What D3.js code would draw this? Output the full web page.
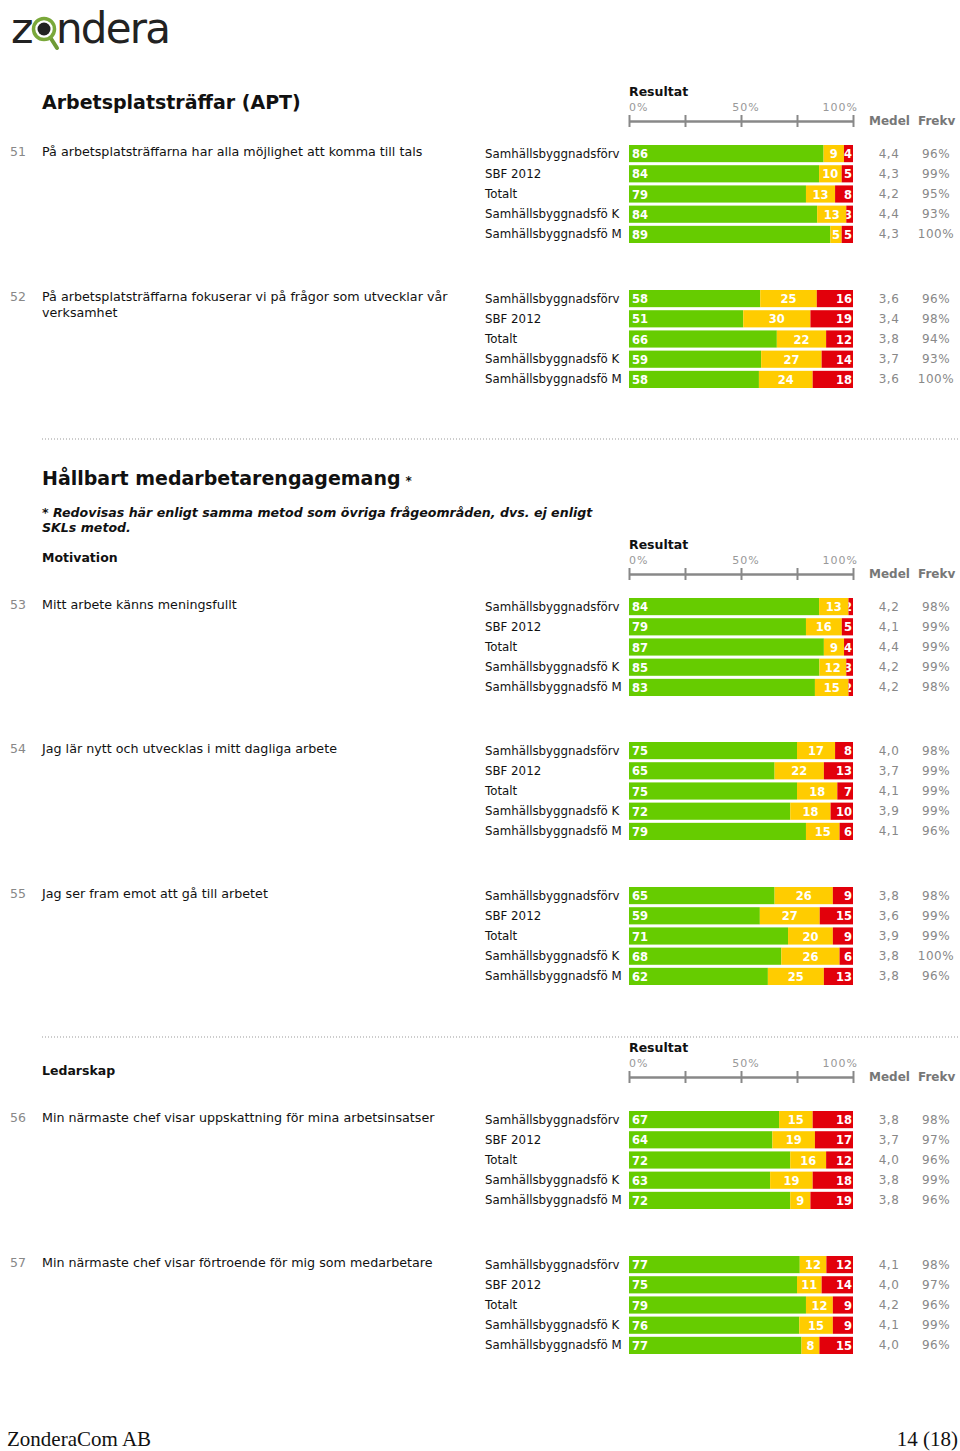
<!DOCTYPE html>
<html>
<head>
<meta charset="utf-8">
<script src="https://cdn.jsdelivr.net/npm/d3@7"></script>
<style>
  body{margin:0;background:#fff;}
  svg{display:block;font-family:"DejaVu Sans",Verdana,sans-serif;}
</style>
</head>
<body>
<div class="canvas"></div>
<script>
// data
const groups=['Samhällsbyggnadsförv','SBF 2012','Totalt','Samhällsbyggnadsfö K','Samhällsbyggnadsfö M'];
const qNumbers=[51,52,53,54,55,56,57];
const qTexts=[
  'På arbetsplatsträffarna har alla möjlighet att komma till tals',
  'På arbetsplatsträffarna fokuserar vi på frågor som utvecklar vår verksamhet',
  'Mitt arbete känns meningsfullt',
  'Jag lär nytt och utvecklas i mitt dagliga arbete',
  'Jag ser fram emot att gå till arbetet',
  'Min närmaste chef visar uppskattning för mina arbetsinsatser',
  'Min närmaste chef visar förtroende för mig som medarbetare'
];
const green=[[86,84,79,84,89],[58,51,66,59,58],[84,79,87,85,83],[75,65,75,72,79],[65,59,71,68,62],[67,64,72,63,72],[77,75,79,76,77]];
const yellow=[[9,10,13,13,5],[25,30,22,27,24],[13,16,9,12,15],[17,22,18,18,15],[26,27,20,26,25],[15,19,16,19,9],[12,11,12,15,8]];
const red=[[4,5,8,3,5],[16,19,12,14,18],[2,5,4,3,2],[8,13,7,10,6],[9,15,9,6,13],[18,17,12,18,19],[12,14,9,9,15]];
const medel=[['4,4','4,3','4,2','4,4','4,3'],['3,6','3,4','3,8','3,7','3,6'],['4,2','4,1','4,4','4,2','4,2'],['4,0','3,7','4,1','3,9','4,1'],['3,8','3,6','3,9','3,8','3,8'],['3,8','3,7','4,0','3,8','3,8'],['4,1','4,0','4,2','4,1','4,0']];
const frekv=[['96%','99%','95%','93%','100%'],['96%','98%','94%','93%','100%'],['98%','99%','99%','99%','98%'],['98%','99%','99%','99%','96%'],['98%','99%','99%','100%','96%'],['98%','97%','96%','99%','96%'],['98%','97%','96%','99%','96%']];
const tickLabels=['0%','50%','100%'];

const W=960,H=1451;
const svg=d3.select('.canvas').append('svg').attr('width',W).attr('height',H);

const x=d3.scaleLinear().domain([0,1]).range([629,853]);
const colors=['#66cc00','#ffcc00','#e2000b'];

// where each block sits on the page
const qTop=[144,289,597,741,886,1110,1255];
const headerAxisY=[121,574,1077];

// logo
const logo=svg.append('g');
logo.append('text').attr('x',11).attr('y',43).attr('font-size',43).attr('fill','#222').text('z');
logo.append('line').attr('x1',50).attr('y1',37).attr('x2',57).attr('y2',48).attr('stroke','#6f9a35').attr('stroke-width',4).attr('stroke-linecap','round');
logo.append('circle').attr('cx',44).attr('cy',29).attr('r',10.5).attr('fill','#fff').attr('stroke','#7aa83a').attr('stroke-width',3.5);
logo.append('circle').attr('cx',44).attr('cy',29).attr('r',6.5).attr('fill','#222');
logo.append('text').attr('x',56).attr('y',43).attr('font-size',42).attr('letter-spacing',-1.8).attr('fill','#222').text('ndera');

// headings
svg.append('text').attr('x',42).attr('y',109).attr('font-size',19).attr('font-weight','bold').attr('fill','#111').text('Arbetsplatsträffar (APT)');
const h2=svg.append('text').attr('x',42).attr('y',485).attr('font-size',19).attr('font-weight','bold').attr('fill','#111');
h2.append('tspan').text('Hållbart medarbetarengagemang');
h2.append('tspan').attr('font-size',12).attr('dx',5).text('*');
svg.append('text').attr('x',42).attr('y',517).attr('font-size',12.6).attr('font-weight','bold').attr('font-style','italic').attr('fill','#111')
  .text('* Redovisas här enligt samma metod som övriga frågeområden, dvs. ej enligt');
svg.append('text').attr('x',42).attr('y',532).attr('font-size',12.6).attr('font-weight','bold').attr('font-style','italic').attr('fill','#111')
  .text('SKLs metod.');
svg.append('text').attr('x',42).attr('y',562).attr('font-size',12.5).attr('font-weight','bold').attr('fill','#111').text('Motivation');
svg.append('text').attr('x',42).attr('y',1075).attr('font-size',12.5).attr('font-weight','bold').attr('fill','#111').text('Ledarskap');

// dotted separators
[439,1037].forEach(y=>{
  svg.append('line').attr('x1',42).attr('x2',958).attr('y1',y).attr('y2',y)
    .attr('stroke','#999').attr('stroke-dasharray','1,2');
});

// Resultat header + scale
headerAxisY.forEach(ay=>{
  const g=svg.append('g');
  g.append('text').attr('x',629).attr('y',ay-25).attr('font-size',12.5).attr('font-weight','bold').attr('fill','#111').text('Resultat');
  const axis=d3.axisBottom(x).tickValues([0,.25,.5,.75,1]).tickSizeOuter(0).tickFormat('');
  const ag=g.append('g').attr('transform',`translate(0,${ay})`).call(axis);
  ag.select('.domain').attr('stroke','#888').attr('stroke-width',2.5);
  ag.selectAll('.tick line').attr('y1',-6).attr('y2',6).attr('stroke','#888').attr('stroke-width',2);
  const anchors=['start','middle','end'];
  const vals=[0,.5,1];
  const dx=[0,5,5];
  g.selectAll('.tl').data(tickLabels).enter().append('text')
    .attr('x',(d,i)=>x(vals[i])+dx[i]).attr('y',ay-10)
    .attr('text-anchor',anchors[0]).attr('text-anchor',(d,i)=>anchors[i])
    .attr('font-size',11).attr('letter-spacing',1).attr('fill','#999').text(d=>d);
  g.append('text').attr('x',869).attr('y',ay+4).attr('font-size',12).attr('font-weight','bold').attr('fill','#777').text('Medel');
  g.append('text').attr('x',918).attr('y',ay+4).attr('font-size',12).attr('font-weight','bold').attr('fill','#777').text('Frekv');
});

// wrap long question text
function wrap(textSel,width){
  textSel.each(function(){
    const t=d3.select(this);
    const words=t.text().split(/\s+/);
    t.text(null);
    let line=[];
    let ts=t.append('tspan').attr('x',t.attr('x')).attr('dy',0);
    words.forEach(w=>{
      line.push(w);
      ts.text(line.join(' '));
      if(ts.node().getComputedTextLength()>width && line.length>1){
        line.pop();
        ts.text(line.join(' '));
        line=[w];
        ts=t.append('tspan').attr('x',t.attr('x')).attr('dy',15.5).text(w);
      }
    });
  });
}

const stack=d3.stack().keys([0,1,2]).offset(d3.stackOffsetExpand);
let clipId=0;

qNumbers.forEach((num,qi)=>{
  const top=qTop[qi];
  const y=d3.scaleBand().domain(groups).range([top+1,top+99]).paddingInner(0.15).paddingOuter(0);
  const g=svg.append('g');

  g.append('text').attr('x',10).attr('y',top+12).attr('font-size',12.5).attr('fill','#888').text(num);
  g.append('text').attr('x',42).attr('y',top+12).attr('font-size',12.7).attr('fill','#111')
    .text(qTexts[qi]).call(wrap,420);

  const rows=groups.map((grp,i)=>({0:green[qi][i],1:yellow[qi][i],2:red[qi][i],grp:grp,i:i}));
  const series=stack(rows);

  // group labels
  g.selectAll('.glabel').data(groups).enter().append('text')
    .attr('x',485).attr('y',d=>y(d)+y.bandwidth()/2+4)
    .attr('font-size',11.8).attr('fill','#111').text(d=>d);

  series.forEach((s,k)=>{
    const segs=g.selectAll('.seg'+k).data(s).enter().append('g');
    segs.append('rect')
      .attr('x',d=>x(d[0])).attr('width',d=>x(d[1])-x(d[0]))
      .attr('y',d=>y(d.data.grp)).attr('height',y.bandwidth())
      .attr('fill',colors[k]);
    segs.each(function(d){
      const id='c'+(clipId++);
      svg.append('clipPath').attr('id',id).append('rect')
        .attr('x',x(d[0])).attr('width',x(d[1])-x(d[0]))
        .attr('y',y(d.data.grp)).attr('height',y.bandwidth());
      const tx=k===0?x(d[0])+3:(k===1?(x(d[0])+x(d[1]))/2:x(d[1])-1);
      d3.select(this).append('text')
        .attr('clip-path',`url(#${id})`)
        .attr('x',tx).attr('y',y(d.data.grp)+y.bandwidth()/2+4.5)
        .attr('text-anchor',k===0?'start':(k===1?'middle':'end'))
        .attr('font-size',11.5).attr('font-weight','bold').attr('fill','#fff')
        .text(d.data[k]);
    });
  });

  g.selectAll('.medel').data(medel[qi]).enter().append('text')
    .attr('x',889).attr('y',(d,i)=>y(groups[i])+y.bandwidth()/2+4)
    .attr('text-anchor','middle').attr('font-size',12).attr('letter-spacing',0.5).attr('fill','#888').text(d=>d);
  g.selectAll('.frekv').data(frekv[qi]).enter().append('text')
    .attr('x',936).attr('y',(d,i)=>y(groups[i])+y.bandwidth()/2+4)
    .attr('text-anchor','middle').attr('font-size',12).attr('letter-spacing',0.5).attr('fill','#888').text(d=>d);
});

// footer
svg.append('text').attr('x',7).attr('y',1446).attr('font-family','"Liberation Serif","Times New Roman",serif')
  .attr('font-size',21).attr('fill','#111').text('ZonderaCom AB');
svg.append('text').attr('x',958).attr('y',1446).attr('text-anchor','end').attr('font-family','"Liberation Serif","Times New Roman",serif')
  .attr('font-size',21).attr('fill','#111').text('14 (18)');
</script>
</body>
</html>
